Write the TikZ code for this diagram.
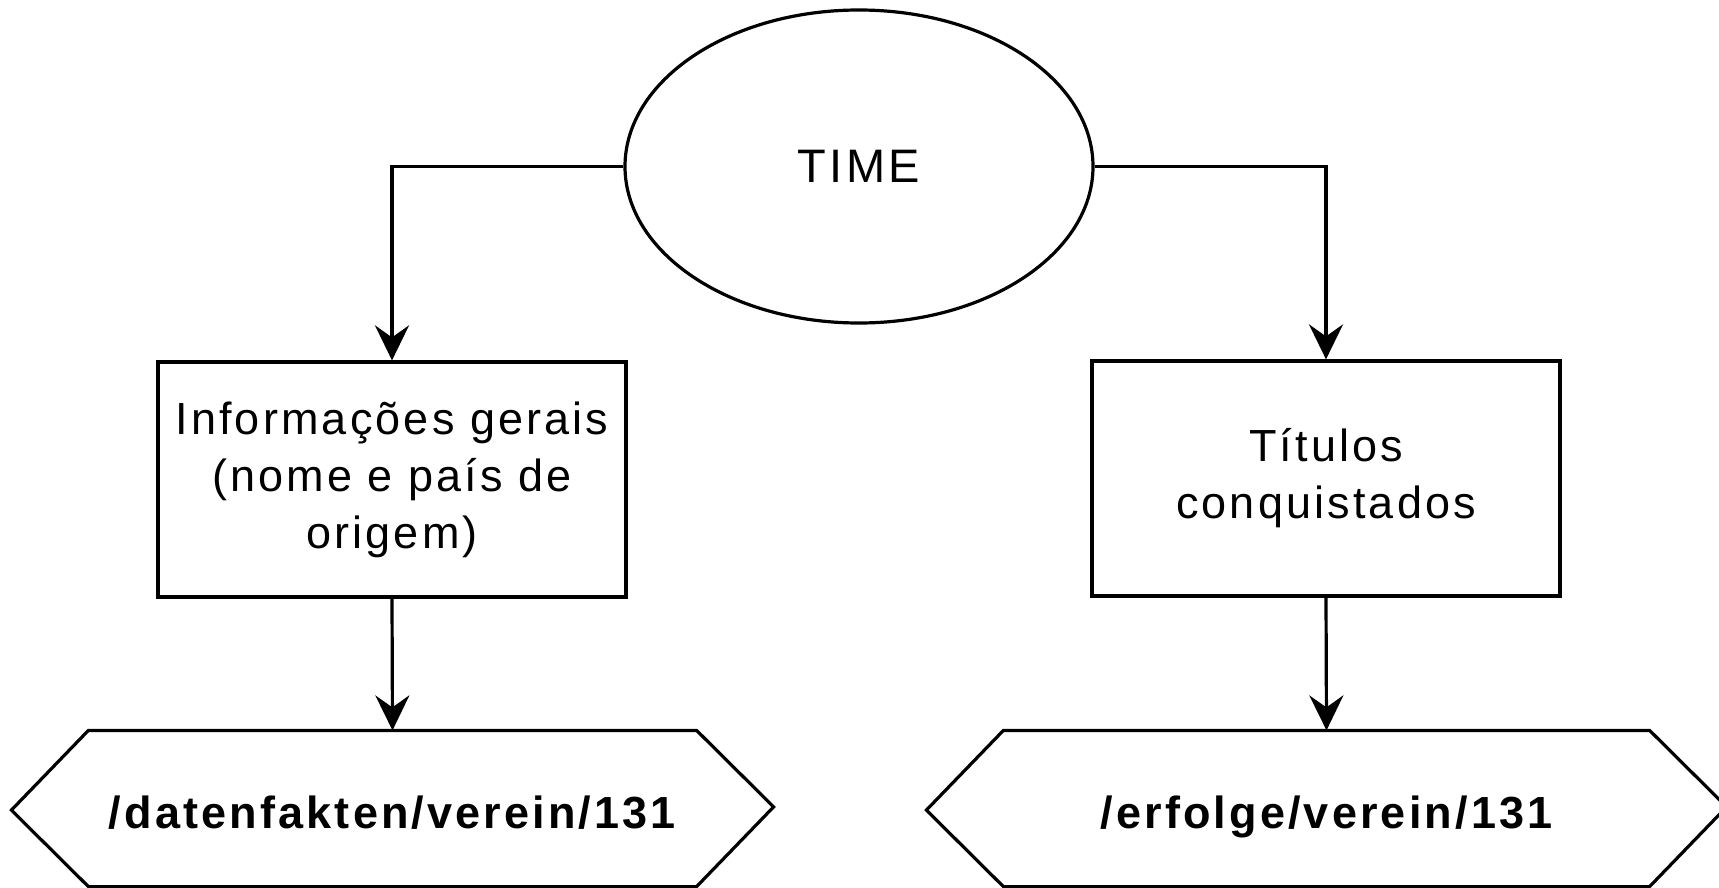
\documentclass[tikz,border=0pt]{standalone}
\usepackage{fontspec}
\setmainfont{Liberation Sans}[LetterSpace=7]
\usetikzlibrary{arrows.meta,shapes.geometric}
\begin{document}
\begin{tikzpicture}[x=0.5pt,y=-0.5pt, line width=1.6pt,
  txt/.style={font=\fontsize{22.5}{28.5}\selectfont, align=center},
  boxnode/.style={draw, rectangle, minimum width=234pt, minimum height=117.5pt, inner sep=0pt, txt},
  hexnode/.style={rectangle, minimum height=76.5pt, inner sep=0pt, text height=19.5pt, text depth=0pt, font=\fontsize{22.5}{28.5}\selectfont\bfseries},
  conn/.style={-{Stealth[length=17.5pt,width=17pt,inset=6pt]}}
]
\useasboundingbox (0,0) rectangle (1719,888);
\node[draw, ellipse, minimum width=234pt, minimum height=156.5pt, inner sep=0pt, font=\fontsize{23.5}{28}\selectfont] (time) at (859,166.5) {TIME};
\node[boxnode] (b1) at (392,479.5) {Informações gerais\\(nome e país de\\origem)};
\node[boxnode] (b2) at (1326,478.5) {Títulos\\conquistados};
\node[hexnode, minimum width=302.5pt] (h1) at (392.5,808.5) {/datenfakten/verein/131};
\node[hexnode, minimum width=321.5pt] (h2) at (1326.5,808.5) {/erfolge/verein/131};
\foreach \h in {h1,h2}{
  \draw[line join=miter] (\h.north west) -- (\h.north east) -- ++(77,76.5) -- (\h.south east) -- (\h.south west) -- ++(-77,-76.5) -- cycle;
}
\draw[conn] (time.west) -| (b1.north);
\draw[conn] (time.east) -| (b2.north);
\draw[conn] (b1.south) -- (h1.north);
\draw[conn] (b2.south) -- (h2.north);
\end{tikzpicture}
\end{document}
